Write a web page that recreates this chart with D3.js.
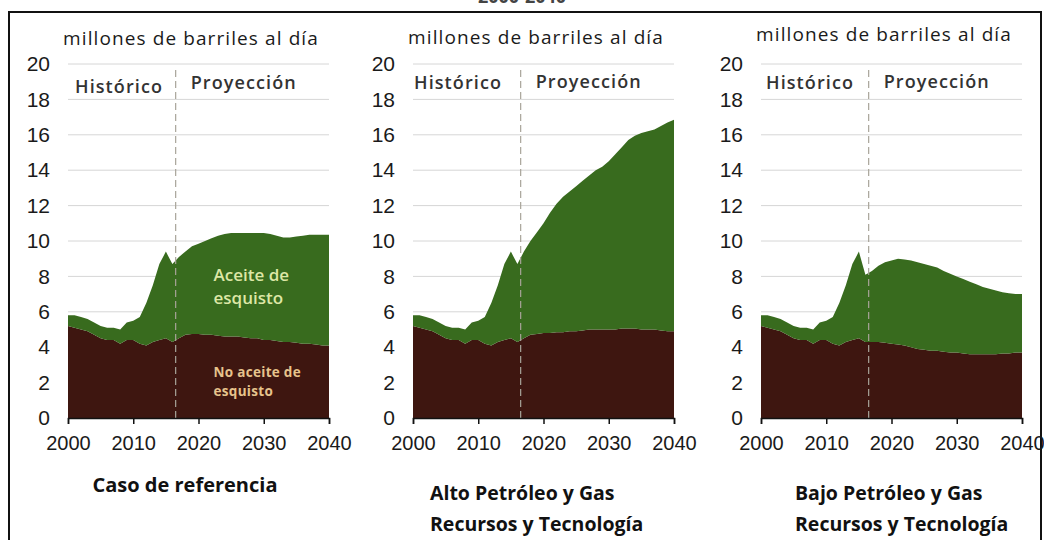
<!DOCTYPE html>
<html>

<head>
  <title>Producción de petróleo</title>
  <script type="text/javascript" src="https://cdn.jsdelivr.net/npm/d3@7"></script>
  <style>
    body { margin: 0; background: #fff; }
    svg { display: block; }
  </style>
</head>

<body>
  <script type="text/javascript">
    // Ancho og højde
    const w = 1044;
    const h = 540;

    // År
    const years = [2000, 2001, 2002, 2003, 2004, 2005, 2006, 2007, 2008, 2009,
      2010, 2011, 2012, 2013, 2014, 2015, 2016, 2017, 2018, 2019,
      2020, 2021, 2022, 2023, 2024, 2025, 2026, 2027, 2028, 2029,
      2030, 2031, 2032, 2033, 2034, 2035, 2036, 2037, 2038, 2039, 2040];
    const splitYear = 2016.5;

    // Caso de referencia
    const refNonShale = [5.2, 5.1, 5.0, 4.9, 4.7, 4.5, 4.4, 4.4, 4.2, 4.4, 4.4, 4.2, 4.1, 4.3, 4.4, 4.5, 4.3,
      4.5, 4.7, 4.75, 4.75, 4.7, 4.7, 4.65, 4.6, 4.6, 4.6, 4.55, 4.5, 4.5, 4.4, 4.4, 4.35, 4.3, 4.3, 4.25, 4.2, 4.2, 4.15, 4.1, 4.1];
    const refShale = [0.6, 0.7, 0.7, 0.7, 0.7, 0.7, 0.7, 0.7, 0.8, 1.0, 1.1, 1.5, 2.4, 3.2, 4.3, 4.9, 4.4,
      4.6, 4.7, 4.95, 5.1, 5.3, 5.45, 5.65, 5.8, 5.85, 5.85, 5.9, 5.95, 5.95, 6.05, 6.0, 5.95, 5.9, 5.9, 6.0, 6.1, 6.15, 6.2, 6.25, 6.25];

    // Alto Petróleo y Gas
    const highNonShale = [5.2, 5.1, 5.0, 4.9, 4.7, 4.5, 4.4, 4.4, 4.2, 4.4, 4.4, 4.2, 4.1, 4.3, 4.4, 4.5, 4.3,
      4.5, 4.7, 4.75, 4.8, 4.8, 4.85, 4.85, 4.9, 4.9, 4.95, 5.0, 5.0, 5.0, 5.0, 5.0, 5.05, 5.05, 5.05, 5.0, 5.0, 5.0, 4.95, 4.9, 4.9];
    const highShale = [0.6, 0.7, 0.7, 0.7, 0.7, 0.7, 0.7, 0.7, 0.8, 1.0, 1.1, 1.5, 2.4, 3.2, 4.3, 4.9, 4.4,
      4.9, 5.3, 5.75, 6.2, 6.8, 7.25, 7.65, 7.9, 8.2, 8.45, 8.7, 9.0, 9.2, 9.5, 9.9, 10.25, 10.65, 10.9, 11.1, 11.2, 11.3, 11.55, 11.8, 11.95];

    // Bajo Petróleo y Gas
    const lowNonShale = [5.2, 5.1, 5.0, 4.9, 4.7, 4.5, 4.4, 4.4, 4.2, 4.4, 4.4, 4.2, 4.1, 4.3, 4.4, 4.5, 4.3,
      4.3, 4.3, 4.25, 4.2, 4.15, 4.1, 4.0, 3.9, 3.85, 3.8, 3.8, 3.75, 3.7, 3.7, 3.65, 3.6, 3.6, 3.6, 3.6, 3.6, 3.65, 3.65, 3.7, 3.7];
    const lowShale = [0.6, 0.7, 0.7, 0.7, 0.7, 0.7, 0.7, 0.7, 0.8, 1.0, 1.1, 1.5, 2.4, 3.2, 4.3, 4.9, 3.8,
      4.0, 4.3, 4.55, 4.7, 4.85, 4.85, 4.9, 4.9, 4.85, 4.8, 4.7, 4.55, 4.45, 4.3, 4.2, 4.1, 3.95, 3.8, 3.7, 3.6, 3.45, 3.4, 3.3, 3.3];

    const yTicks = [0, 2, 4, 6, 8, 10, 12, 14, 16, 18, 20];
    const xTicks = [2000, 2010, 2020, 2030, 2040];

    const colors = { nonShale: "#3e1610", shale: "#386b1e" };

    // Paneler
    const panels = [
      { left: 68, nonShale: refNonShale, shale: refShale, unitY: 45, histDx: 7, title: ["Caso de referencia"], titleX: 185, titleAnchor: "middle", labels: true },
      { left: 413, nonShale: highNonShale, shale: highShale, unitY: 44, histDx: 1, title: ["Alto Petróleo y Gas", "Recursos y Tecnología"], titleX: 430, titleAnchor: "start", labels: false },
      { left: 761, nonShale: lowNonShale, shale: lowShale, unitY: 41, histDx: 5, title: ["Bajo Petróleo y Gas", "Recursos y Tecnología"], titleX: 795, titleAnchor: "start", labels: false }
    ];
    const pw = 261;
    const font = "Open Sans, sans-serif";
    const numFont = "Liberation Sans, Arial, sans-serif";

    const yScale = d3.scaleLinear().domain([0, 20]).range([418, 64]);

    const svg = d3.select("body")
      .append("svg")
      .attr("width", w)
      .attr("height", h);

    // Titel (afskåret i toppen) og ramme
    svg.append("text")
      .attr("x", 522).attr("y", 3)
      .attr("text-anchor", "middle")
      .attr("font-family", font)
      .attr("font-weight", "bold")
      .attr("font-size", 18)
      .attr("fill", "#444")
      .text("2000-2040");

    svg.append("rect")
      .attr("x", 9).attr("y", 12)
      .attr("width", 1032).attr("height", 540)
      .attr("fill", "none")
      .attr("stroke", "#111")
      .attr("stroke-width", 2);

    panels.forEach(function (p) {
      const xScale = d3.scaleLinear().domain([2000, 2040]).range([p.left, p.left + pw]);
      const g = svg.append("g");

      // Gitterlinjer
      g.selectAll("line.grid")
        .data(yTicks.filter(d => d > 0))
        .enter()
        .append("line")
        .attr("x1", p.left).attr("x2", p.left + pw)
        .attr("y1", d => yScale(d)).attr("y2", d => yScale(d))
        .attr("stroke", "#d6d6d6")
        .attr("stroke-width", 1);

      // Stablet areal
      const rows = years.map(function (y, i) {
        return { year: y, nonShale: p.nonShale[i], shale: p.shale[i] };
      });
      const stacked = d3.stack().keys(["nonShale", "shale"])(rows);
      const area = d3.area()
        .x(d => xScale(d.data.year))
        .y0(d => yScale(d[0]))
        .y1(d => yScale(d[1]));

      g.selectAll("path.layer")
        .data(stacked)
        .enter()
        .append("path")
        .attr("d", area)
        .attr("fill", d => colors[d.key]);

      // Stiplet linje mellem historik og projektion
      g.append("line")
        .attr("x1", xScale(splitYear)).attr("x2", xScale(splitYear))
        .attr("y1", yScale(0)).attr("y2", yScale(19.8))
        .attr("stroke", "#a8a49a")
        .attr("stroke-width", 1.2)
        .attr("stroke-dasharray", "7,4");

      // x-akse
      const xAxis = d3.axisBottom(xScale)
        .tickValues(xTicks)
        .tickFormat(d3.format("d"))
        .tickSize(6)
        .tickPadding(12);
      const ax = g.append("g")
        .attr("transform", "translate(0," + yScale(0) + ")")
        .call(xAxis);
      ax.select(".domain").attr("stroke", "#111").attr("stroke-width", 1.5);
      ax.selectAll(".tick line").attr("stroke", "#111").attr("stroke-width", 1.5);
      ax.selectAll("text")
        .attr("font-family", numFont)
        .attr("font-size", 20)
        .attr("fill", "#1a1a1a");

      // y-akse (kun tal)
      const yAxis = d3.axisLeft(yScale)
        .tickValues(yTicks)
        .tickSize(0)
        .tickPadding(18);
      const ay = g.append("g")
        .attr("transform", "translate(" + p.left + ",0)")
        .call(yAxis);
      ay.select(".domain").remove();
      ay.selectAll("text")
        .attr("font-family", numFont)
        .attr("font-size", 21)
        .attr("fill", "#1a1a1a");

      // Enhed
      g.append("text")
        .attr("x", p.left + 123).attr("y", p.unitY)
        .attr("text-anchor", "middle")
        .attr("font-family", font)
        .attr("font-size", 19)
        .attr("letter-spacing", 1.1)
        .attr("fill", "#1a1a1a")
        .text("millones de barriles al día");

      // Histórico / Proyección
      g.append("text")
        .attr("x", p.left + p.histDx).attr("y", 93 - (p.left > 100 ? 4 : 0))
        .attr("font-family", font)
        .attr("font-weight", 600)
        .attr("font-size", 18)
        .attr("letter-spacing", 1.1)
        .attr("fill", "#333")
        .text("Histórico");
      g.append("text")
        .attr("x", xScale(splitYear) + 15).attr("y", 89 - (p.left > 100 ? 1 : 0))
        .attr("font-family", font)
        .attr("font-weight", 600)
        .attr("font-size", 18)
        .attr("letter-spacing", 1.1)
        .attr("fill", "#333")
        .text("Proyección");

      // Panel-titel
      g.selectAll("text.ptitle")
        .data(p.title)
        .enter()
        .append("text")
        .attr("x", p.titleX)
        .attr("y", (d, i) => (p.title.length === 1 ? 492 : 500) + i * 31)
        .attr("text-anchor", p.titleAnchor)
        .attr("font-family", font)
        .attr("font-weight", "bold")
        .attr("font-size", p.title.length === 1 ? 20 : 19.5)
        .attr("fill", "#111")
        .text(d => d);

      // Etiketter i arealerne
      if (p.labels) {
        g.selectAll("text.shale")
          .data(["Aceite de", "esquisto"])
          .enter()
          .append("text")
          .attr("x", xScale(2022.3))
          .attr("y", (d, i) => 281 + i * 23)
          .attr("font-family", font)
          .attr("font-weight", 600)
          .attr("font-size", 17)
          .attr("fill", "#dde7a6")
          .text(d => d);
        g.selectAll("text.nonshale")
          .data(["No aceite de", "esquisto"])
          .enter()
          .append("text")
          .attr("x", xScale(2022.3))
          .attr("y", (d, i) => 377 + i * 19)
          .attr("font-family", font)
          .attr("font-weight", "bold")
          .attr("font-size", 13.5)
          .attr("letter-spacing", 0.3)
          .attr("fill", "#e6c38c")
          .text(d => d);
      }
    });
  </script>
</body>

</html>
